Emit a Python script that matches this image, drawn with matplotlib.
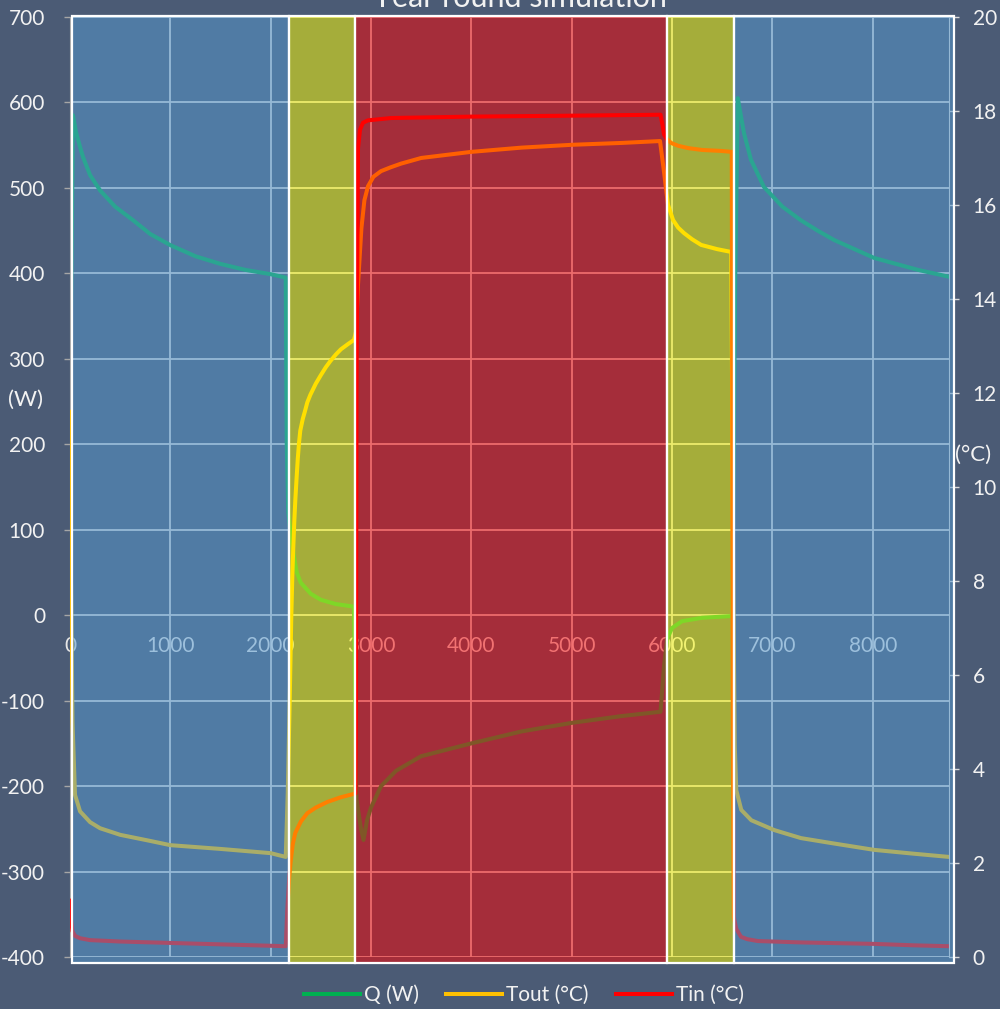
import matplotlib
matplotlib.use('Agg')
import matplotlib.pyplot as plt
from matplotlib.patches import Rectangle

plt.rcParams['font.family'] = ['Lato', 'DejaVu Sans']
plt.rcParams['axes.unicode_minus'] = False

# hourly simulation over one year, values read at irregular hours
q_hours = [0, 30, 60, 100, 130, 200, 300, 450, 630, 800, 1000, 1250, 1500, 1750, 2000, 2150,
           2160, 2175, 2200, 2230, 2260, 2300, 2400, 2500, 2650, 2830,
           2855, 2900, 2925, 2960, 3000, 3100, 3250, 3500, 4000, 4500, 5000, 5500, 5885,
           5920, 5950, 6000, 6100, 6300, 6600,
           6630, 6655, 6685, 6717, 6786, 6916, 7100, 7285, 7450, 7615, 8014, 8453, 8760]
q_watts = [245, 585, 565, 548, 536, 515, 497, 478, 462, 446, 433, 420, 411, 404, 399, 395,
           200, 120, 95, 70, 50, 38, 25, 18, 13, 10,
           -215, -250, -263, -240, -225, -200, -182, -165, -150, -136, -126, -118, -113,
           -60, -28, -15, -7, -3, -1,
           400, 605, 585, 564, 533, 501, 478, 462, 450, 439, 418, 404, 396]

tout_hours = [0, 10, 25, 50, 100, 200, 300, 500, 800, 1000, 1500, 2000, 2150,
              2170, 2190, 2205, 2215, 2225, 2235, 2245, 2257, 2270, 2282, 2295, 2320, 2340,
              2365, 2395, 2450, 2500, 2550, 2595, 2650, 2700, 2770, 2830,
              2850, 2870, 2904, 2934, 2970, 3024, 3100, 3194, 3300, 3500, 4000, 4500, 5000, 5500, 5880,
              5920, 5945, 5960, 6010, 6060, 6120, 6200, 6290, 6450, 6590,
              6610, 6625, 6640, 6690, 6790, 7020, 7285, 7600, 8014, 8400, 8760]
tout_vals = [11.6, 8.0, 5.0, 3.45, 3.1, 2.87, 2.74, 2.6, 2.47, 2.38, 2.3, 2.21, 2.13,
             3.5, 5.5, 7.2, 8.05, 8.7, 9.25, 9.7, 10.15, 10.6, 10.93, 11.2, 11.45, 11.6,
             11.8, 11.96, 12.2, 12.38, 12.55, 12.68, 12.82, 12.93, 13.04, 13.13,
             13.3, 14.3, 15.5, 16.1, 16.4, 16.6, 16.72, 16.8, 16.88, 17.0, 17.13, 17.22, 17.28, 17.32, 17.36,
             16.7, 16.25, 16.0, 15.68, 15.52, 15.4, 15.27, 15.15, 15.06, 15.0,
             8.0, 4.5, 3.55, 3.13, 2.91, 2.7, 2.53, 2.42, 2.28, 2.2, 2.13]

tin_hours = [0, 10, 25, 50, 100, 200, 500, 1000, 1500, 2000, 2150,
             2165, 2185, 2200, 2220, 2245, 2300, 2365, 2450, 2565, 2700, 2845,
             2850, 2855, 2870, 2890, 2920, 2970, 3200, 4000, 5000, 5885,
             5905, 5920, 5950, 5990, 6060, 6160, 6300, 6487, 6595,
             6605, 6615, 6640, 6687, 6750, 6856, 7300, 8014, 8400, 8760]
tin_vals = [1.2, 0.8, 0.55, 0.45, 0.4, 0.36, 0.33, 0.30, 0.27, 0.24, 0.23,
            1.0, 1.7, 2.05, 2.4, 2.64, 2.88, 3.06, 3.18, 3.3, 3.4, 3.48,
            5.0, 12.0, 17.2, 17.6, 17.75, 17.8, 17.85, 17.88, 17.9, 17.92,
            17.7, 17.5, 17.4, 17.32, 17.26, 17.21, 17.17, 17.15, 17.13,
            5.0, 0.85, 0.6, 0.43, 0.38, 0.34, 0.31, 0.28, 0.25, 0.23]

# seasons: winter / mid-season / summer / mid-season / winter
band_edges = [20, 2185, 2845, 5950, 6615, 8810]
band_colors = ['#559BD3', '#FFFF00', '#FF0000', '#FFFF00', '#559BD3']

bg = '#4B5B75'
txt = '#F2F2F2'

fig = plt.figure(figsize=(10, 10.09), dpi=100, facecolor=bg)
ax = fig.add_axes([0.07, 0.0515, 0.879, 0.9317])
ax.set_facecolor(bg)
ax2 = ax.twinx()

ax.plot(q_hours, q_watts, color='#00B050', lw=2.9, label='Q (W)', zorder=2)
ax2.plot(tout_hours, tout_vals, color='#FFC000', lw=2.9, label='Tout (°C)', zorder=2)
ax2.plot(tin_hours, tin_vals, color='#FF0000', lw=2.9, label='Tin (°C)', zorder=2)

ax.set_xlim(0, 8760)
ax.set_ylim(-400, 700)
ax2.set_ylim(0, 20)
ax.set_yticks(range(-400, 701, 100))
ax2.set_yticks(range(0, 21, 2))
ax.set_xticks(range(0, 8001, 1000))

ax.set_axisbelow(True)
ax.grid(True, color='#D9D9D9', lw=1.3)

# x axis sits at Q = 0, labels inside the plot
ax.spines['bottom'].set_position(('data', 0))
ax.spines['bottom'].set_visible(False)
ax.tick_params(axis='x', length=0, pad=15, labelsize=15, labelcolor='#E6E6E6')
ax.tick_params(axis='y', length=4, width=1, color='#A6A6A6', pad=14,
               labelsize=15, labelcolor=txt)
ax2.tick_params(axis='y', length=7, width=1, color='#D9D9D9', pad=10,
                labelsize=15, labelcolor=txt)
for s in ['top', 'right']:
    ax.spines[s].set_visible(False)
ax.spines['left'].set_color('#A6A6A6')
for s in ['top', 'bottom', 'left']:
    ax2.spines[s].set_visible(False)
ax2.spines['right'].set_color('#D9D9D9')

# translucent season panels over the curves
trans = ax2.get_xaxis_transform()
for x0, x1, c in zip(band_edges[:-1], band_edges[1:], band_colors):
    ax2.add_patch(Rectangle((x0, -0.0064), x1 - x0, 1.0074, transform=trans,
                            facecolor=matplotlib.colors.to_rgba(c, 0.5),
                            edgecolor='white', lw=1.6, clip_on=False, zorder=5))

fig.text(0.52, 0.993, 'Year round simulation', ha='center', va='baseline',
         fontsize=22, color=txt)
fig.text(0.008, 1 - 400 / 1009, '(W)', ha='left', va='center', fontsize=16, color=txt)
fig.text(0.955, 1 - 455 / 1009, '(°C)', ha='left', va='center', fontsize=16, color=txt)

h1, l1 = ax.get_legend_handles_labels()
h2, l2 = ax2.get_legend_handles_labels()
leg = fig.legend(h1 + h2, l1 + l2, loc='center', bbox_to_anchor=(0.524, 0.014),
                 ncol=3, frameon=False, fontsize=15, handlelength=2.7,
                 handletextpad=0.2, columnspacing=1.3)
for t in leg.get_texts():
    t.set_color(txt)

fig.savefig('out.png', dpi=100, facecolor=bg)
